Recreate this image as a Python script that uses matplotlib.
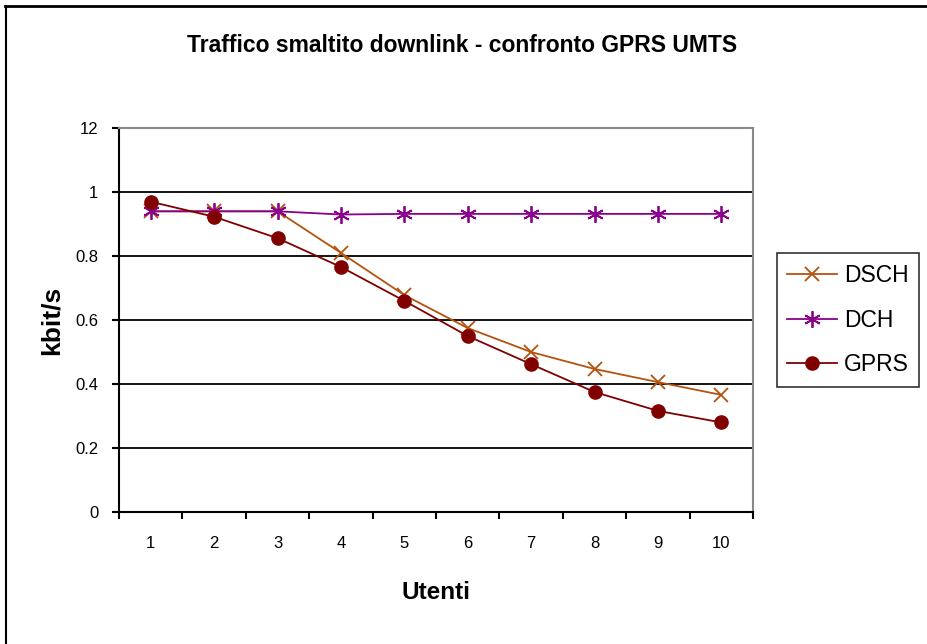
import matplotlib.pyplot as plt
from matplotlib.lines import Line2D

plt.rcParams['font.family'] = ['Liberation Sans', 'DejaVu Sans']

# dati
utenti = [1, 2, 3, 4, 5, 6, 7, 8, 9, 10]
dsch = [0.94, 0.94, 0.94, 0.81, 0.678, 0.575, 0.50, 0.447, 0.406, 0.366]
dch = [0.94, 0.94, 0.94, 0.93, 0.932, 0.932, 0.932, 0.932, 0.932, 0.932]
gprs = [0.97, 0.923, 0.856, 0.766, 0.66, 0.55, 0.462, 0.375, 0.316, 0.28]
y_ticks = [0, 0.2, 0.4, 0.6, 0.8, 1.0, 1.2]
y_labels = ['0', '0.2', '0.4', '0.6', '0.8', '1', '12']

fig = plt.figure(figsize=(9.27, 6.44), dpi=100)
ax = fig.add_axes([0.1284, 0.205, 0.684, 0.596])

x = list(range(len(utenti)))
ax.plot(x, dsch, color='#B5520F', marker='x', markersize=10.5, markeredgewidth=1.3,
        linewidth=1.3, label='DSCH', zorder=3)
ax.plot(x, dch, color='#8B008B', marker=(6, 2, 0), markersize=12, markeredgewidth=1.3,
        linewidth=1.3, label='DCH', zorder=3)
ax.plot(x, gprs, color='#800000', marker='o', markersize=9.5,
        linewidth=1.3, label='GPRS', zorder=4)

ax.set_xlim(-0.5, len(utenti) - 0.5)
ax.set_ylim(0, 1.2)
ax.set_yticks(y_ticks)
ax.set_yticklabels(y_labels, fontsize=12)
ax.set_xticks([i - 0.5 for i in range(len(utenti) + 1)])
ax.set_xticklabels([])
ax.set_xticks(x, minor=True)
ax.set_xticklabels([str(u) for u in utenti], minor=True, fontsize=12)
ax.tick_params(axis='x', which='major', direction='out', length=5, width=1.5)
ax.tick_params(axis='x', which='minor', length=0, pad=17)
ax.tick_params(axis='y', direction='out', length=5, width=1.5, pad=10)

for v in y_ticks[1:-1]:
    ax.axhline(v, color='black', linewidth=1.3, zorder=1)

ax.spines['left'].set_linewidth(1.5)
ax.spines['bottom'].set_linewidth(1.5)
ax.spines['top'].set_color('#888888')
ax.spines['right'].set_color('#888888')
ax.spines['top'].set_linewidth(1.5)
ax.spines['right'].set_linewidth(1.5)

ax.set_xlabel('Utenti', fontsize=17.5, fontweight='bold', labelpad=22)
ax.set_ylabel('kbit/s', fontsize=19, fontweight='bold', labelpad=8)

fig.text(0.498, 0.93, 'Traffico smaltito downlink - confronto GPRS UMTS',
         ha='center', va='center', fontsize=16.5, fontweight='bold')

leg = ax.legend(loc='center left', bbox_to_anchor=(1.037, 0.5), fontsize=16.5,
                frameon=True, fancybox=False, edgecolor='black', borderaxespad=0,
                handlelength=2.2, labelspacing=0.95, borderpad=0.45, handletextpad=0.3)
leg.get_frame().set_linewidth(1.2)

# cornice esterna (solo sopra e a sinistra visibili)
fig.add_artist(Line2D([0.005, 1.0], [0.99, 0.99], color='black', linewidth=2,
                      transform=fig.transFigure))
fig.add_artist(Line2D([0.006, 0.006], [0.0, 0.99], color='black', linewidth=1.5,
                      transform=fig.transFigure))

fig.savefig('out.png', dpi=100)
